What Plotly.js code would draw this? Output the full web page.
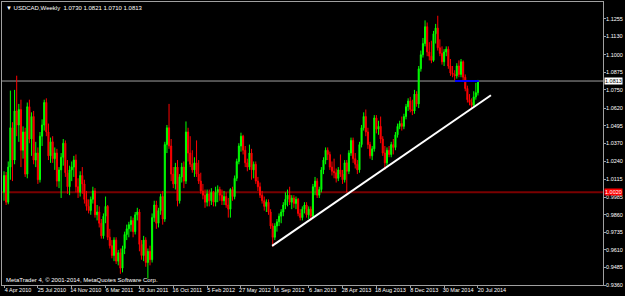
<!DOCTYPE html>
<html>
<head>
<meta charset="utf-8">
<script src="https://cdn.plot.ly/plotly-3.0.1.min.js"></script>
<style>html,body{margin:0;padding:0;background:#000;}#chart{width:625px;height:296px;}</style>
</head>
<body>
<div id="chart"></div>
<script>
// USDCAD weekly bars, first bar = week of 4 Apr 2010
const firstWeek = '2010-04-04';
const opens = [
1.0020,1.0140,0.9950,1.0200,1.0480,1.0250,1.0600,1.0500,1.0610,1.0320,
1.0450,1.0150,1.0630,1.0400,1.0560,1.0250,1.0300,1.0110,1.0420,1.0500,
1.0660,1.0450,1.0280,1.0380,1.0260,1.0300,1.0100,1.0180,1.0270,1.0370,
1.0160,1.0060,1.0180,1.0200,1.0250,1.0060,1.0020,1.0140,1.0080,0.9970,
0.9920,0.9890,0.9970,1.0030,0.9860,0.9880,0.9800,0.9710,0.9850,0.9920,
0.9700,0.9640,0.9570,0.9680,0.9530,0.9590,0.9480,0.9620,0.9720,0.9760,
0.9790,0.9820,0.9740,0.9860,0.9880,0.9650,0.9570,0.9680,0.9520,0.9600,
0.9540,0.9840,0.9930,0.9800,0.9890,0.9990,0.9830,1.0360,1.0480,1.0350,
1.0150,1.0080,1.0200,0.9960,1.0130,1.0200,1.0100,1.0450,1.0300,1.0220,
1.0180,1.0230,1.0150,1.0100,1.0030,1.0000,0.9950,1.0010,0.9960,1.0020,
0.9950,1.0020,1.0040,1.0000,0.9960,0.9990,0.9930,0.9900,1.0040,0.9990,
1.0120,1.0240,1.0350,1.0420,1.0320,1.0230,1.0200,1.0300,1.0180,1.0220,
1.0100,1.0060,1.0000,0.9960,0.9920,0.9950,0.9880,0.9780,0.9700,0.9780,
0.9810,0.9850,0.9880,0.9930,0.9970,1.0000,0.9950,0.9980,0.9940,0.9970,
0.9870,0.9840,0.9900,0.9930,0.9860,0.9900,0.9850,1.0060,1.0100,1.0000,
1.0040,1.0180,1.0250,1.0320,1.0290,1.0200,1.0170,1.0160,1.0120,1.0180,
1.0150,1.0110,1.0230,1.0170,1.0300,1.0390,1.0260,1.0220,1.0180,1.0360,
1.0480,1.0560,1.0450,1.0360,1.0280,1.0330,1.0550,1.0470,1.0490,1.0400,
1.0300,1.0230,1.0320,1.0290,1.0360,1.0340,1.0430,1.0490,1.0510,1.0490,
1.0560,1.0630,1.0670,1.0610,1.0600,1.0720,1.0650,1.0900,1.1000,1.1080,
1.1200,1.1020,1.0990,1.0960,1.1150,1.1190,1.1050,1.1010,1.0950,1.1020,
1.1040,1.0920,1.0870,1.0860,1.0850,1.0920,1.0860,1.0950,1.0840,1.0760,
1.0680,1.0660,1.0640,1.0700,1.0730
];
const highs = [
1.0170,1.0165,1.0240,1.0745,1.0520,1.0750,1.0851,1.0650,1.0680,1.0490,
1.0480,1.0660,1.0680,1.0590,1.0600,1.0380,1.0340,1.0450,1.0540,1.0680,
1.0690,1.0510,1.0410,1.0420,1.0340,1.0330,1.0200,1.0300,1.0400,1.0390,
1.0250,1.0210,1.0240,1.0280,1.0290,1.0120,1.0170,1.0200,1.0110,1.0030,
0.9970,0.9990,1.0060,1.0050,0.9930,0.9920,0.9830,0.9870,0.9990,0.9930,
0.9760,0.9680,0.9700,0.9700,0.9610,0.9620,0.9640,0.9740,0.9790,0.9810,
0.9850,0.9840,0.9880,0.9910,0.9900,0.9680,0.9710,0.9700,0.9620,0.9640,
0.9870,0.9960,0.9960,0.9910,1.0010,1.0030,1.0380,1.0500,1.0650,1.0400,
1.0200,1.0230,1.0250,1.0150,1.0230,1.0240,1.0525,1.0480,1.0420,1.0320,
1.0270,1.0390,1.0250,1.0160,1.0080,1.0040,1.0040,1.0040,1.0050,1.0030,
1.0060,1.0070,1.0060,1.0040,1.0030,1.0020,0.9980,1.0050,1.0060,1.0140,
1.0260,1.0370,1.0445,1.0430,1.0350,1.0260,1.0360,1.0330,1.0240,1.0240,
1.0130,1.0090,1.0030,0.9990,0.9970,0.9970,0.9900,0.9800,0.9800,0.9830,
0.9870,0.9900,0.9950,1.0020,1.0040,1.0060,1.0000,1.0000,0.9990,0.9980,
0.9900,0.9920,0.9950,0.9950,0.9920,0.9920,1.0080,1.0130,1.0120,1.0060,
1.0200,1.0270,1.0340,1.0340,1.0310,1.0240,1.0260,1.0190,1.0200,1.0290,
1.0180,1.0250,1.0250,1.0320,1.0410,1.0410,1.0300,1.0250,1.0380,1.0500,
1.0590,1.0610,1.0480,1.0380,1.0350,1.0570,1.0570,1.0530,1.0560,1.0420,
1.0350,1.0340,1.0350,1.0380,1.0400,1.0450,1.0510,1.0530,1.0560,1.0580,
1.0650,1.0690,1.0700,1.0680,1.0750,1.0740,1.0920,1.1030,1.1120,1.1245,
1.1230,1.1090,1.1100,1.1170,1.1220,1.1278,1.1110,1.1060,1.1040,1.1060,
1.1060,1.0970,1.0920,1.0890,1.0940,1.0960,1.0970,1.0960,1.0860,1.0780,
1.0720,1.0690,1.0740,1.0800,1.0821
];
const lows = [
0.9960,0.9930,0.9935,1.0110,1.0100,1.0220,1.0420,1.0380,1.0200,1.0260,
1.0130,1.0120,1.0370,1.0280,1.0220,1.0200,1.0080,1.0090,1.0350,1.0460,
1.0420,1.0250,1.0230,1.0230,1.0180,1.0060,1.0050,0.9980,1.0210,1.0130,
1.0010,1.0000,1.0100,1.0130,1.0020,0.9980,0.9990,1.0010,0.9940,0.9890,
0.9870,0.9860,0.9940,0.9840,0.9820,0.9770,0.9690,0.9690,0.9800,0.9680,
0.9620,0.9550,0.9530,0.9510,0.9500,0.9440,0.9450,0.9580,0.9680,0.9700,
0.9740,0.9700,0.9720,0.9820,0.9600,0.9540,0.9530,0.9490,0.9406,0.9500,
0.9520,0.9810,0.9760,0.9770,0.9860,0.9790,0.9810,1.0300,1.0330,1.0100,
1.0050,1.0040,0.9920,0.9940,1.0090,1.0050,1.0080,1.0240,1.0200,1.0160,
1.0130,1.0130,1.0080,1.0010,0.9970,0.9910,0.9920,0.9920,0.9930,0.9920,
0.9920,0.9950,0.9960,0.9930,0.9930,0.9910,0.9840,0.9840,0.9960,0.9970,
1.0100,1.0220,1.0310,1.0290,1.0200,1.0170,1.0180,1.0110,1.0120,1.0080,
1.0030,0.9980,0.9940,0.9890,0.9880,0.9860,0.9760,0.9633,0.9680,0.9740,
0.9780,0.9800,0.9850,0.9900,0.9920,0.9930,0.9900,0.9910,0.9900,0.9850,
0.9820,0.9820,0.9870,0.9840,0.9830,0.9820,0.9840,1.0000,0.9980,0.9980,
1.0020,1.0150,1.0220,1.0250,1.0180,1.0140,1.0120,1.0090,1.0100,1.0130,
1.0080,1.0090,1.0020,1.0150,1.0280,1.0230,1.0190,1.0150,1.0160,1.0340,
1.0460,1.0420,1.0330,1.0260,1.0250,1.0310,1.0440,1.0430,1.0370,1.0280,
1.0180,1.0210,1.0270,1.0270,1.0290,1.0320,1.0410,1.0470,1.0460,1.0470,
1.0540,1.0600,1.0590,1.0570,1.0580,1.0630,1.0620,1.0880,1.0980,1.1060,
1.0990,1.0960,1.0940,1.0950,1.1080,1.1030,1.0990,1.0930,1.0920,1.0990,
1.0900,1.0850,1.0840,1.0820,1.0830,1.0840,1.0840,1.0820,1.0740,1.0660,
1.0640,1.0620,1.0630,1.0680,1.0710
];
const closes = [
1.0140,0.9950,1.0200,1.0480,1.0250,1.0600,1.0500,1.0610,1.0320,1.0450,
1.0150,1.0630,1.0400,1.0560,1.0250,1.0300,1.0110,1.0420,1.0500,1.0660,
1.0450,1.0280,1.0380,1.0260,1.0300,1.0100,1.0180,1.0270,1.0370,1.0160,
1.0060,1.0180,1.0200,1.0250,1.0060,1.0020,1.0140,1.0080,0.9970,0.9920,
0.9890,0.9970,1.0030,0.9860,0.9880,0.9800,0.9710,0.9850,0.9920,0.9700,
0.9640,0.9570,0.9680,0.9530,0.9590,0.9480,0.9620,0.9720,0.9760,0.9790,
0.9820,0.9740,0.9860,0.9880,0.9650,0.9570,0.9680,0.9520,0.9600,0.9540,
0.9840,0.9930,0.9800,0.9890,0.9990,0.9830,1.0360,1.0480,1.0350,1.0150,
1.0080,1.0200,0.9960,1.0130,1.0200,1.0100,1.0450,1.0300,1.0220,1.0180,
1.0230,1.0150,1.0100,1.0030,1.0000,0.9950,1.0010,0.9960,1.0020,0.9950,
1.0020,1.0040,1.0000,0.9960,0.9990,0.9930,0.9900,1.0040,0.9990,1.0120,
1.0240,1.0350,1.0420,1.0320,1.0230,1.0200,1.0300,1.0180,1.0220,1.0100,
1.0060,1.0000,0.9960,0.9920,0.9950,0.9880,0.9780,0.9700,0.9780,0.9810,
0.9850,0.9880,0.9930,0.9970,1.0000,0.9950,0.9980,0.9940,0.9970,0.9870,
0.9840,0.9900,0.9930,0.9860,0.9900,0.9850,1.0060,1.0100,1.0000,1.0040,
1.0180,1.0250,1.0320,1.0290,1.0200,1.0170,1.0160,1.0120,1.0180,1.0150,
1.0110,1.0230,1.0170,1.0300,1.0390,1.0260,1.0220,1.0180,1.0360,1.0480,
1.0560,1.0450,1.0360,1.0280,1.0330,1.0550,1.0470,1.0490,1.0400,1.0300,
1.0230,1.0320,1.0290,1.0360,1.0340,1.0430,1.0490,1.0510,1.0490,1.0560,
1.0630,1.0670,1.0610,1.0600,1.0720,1.0650,1.0900,1.1000,1.1080,1.1200,
1.1020,1.0990,1.0960,1.1150,1.1190,1.1050,1.1010,1.0950,1.1020,1.1040,
1.0920,1.0870,1.0860,1.0850,1.0920,1.0860,1.0950,1.0840,1.0760,1.0680,
1.0660,1.0640,1.0700,1.0730,1.0813
];
// time-axis labels
const tickDates = ['2010-04-04','2010-07-25','2010-11-14','2011-03-06','2011-06-26','2011-10-16','2012-02-05','2012-05-27','2012-09-16','2013-01-06','2013-04-28','2013-08-18','2013-12-08','2014-03-30','2014-07-20'];
const tickLabels = ['4 Apr 2010','25 Jul 2010','14 Nov 2010','6 Mar 2011','26 Jun 2011','16 Oct 2011','5 Feb 2012','27 May 2012','16 Sep 2012','6 Jan 2013','28 Apr 2013','18 Aug 2013','8 Dec 2013','30 Mar 2014','20 Jul 2014'];
// price-axis labels
const priceTicks = [1.1255,1.1130,1.1000,1.0875,1.0750,1.0620,1.0495,1.0370,1.0240,1.0115,0.9985,0.9860,0.9735,0.9610,0.9485,0.9360];
// drawn objects
const trendDates = ['2012-09-07','2014-09-01'];
const trendPrices = [0.9639, 1.0712];
const blueDates = ['2014-05-05','2014-07-23'];
const bluePrices = [1.0813, 1.0813];
const redLevel = 1.0020;

const DAY = 864e5;
const t0 = Date.parse(firstWeek + 'T00:00:00Z');
const weekStart = closes.map((_, i) => new Date(t0 + i * 7 * DAY).toISOString().slice(0, 10));
const last = closes.length - 1;
const bid = closes[last];
const fnt = 'Liberation Sans Narrow, Liberation Sans, Arial, sans-serif';

const traces = [
  {type:'candlestick', x: weekStart, open: opens, high: highs, low: lows, close: closes,
   increasing:{line:{color:'#00ff00', width:1}, fillcolor:'#00ff00'},
   decreasing:{line:{color:'#ff0000', width:1}, fillcolor:'#ff0000'},
   whiskerwidth:0, hoverinfo:'skip', showlegend:false},
  {type:'scatter', mode:'lines', x: trendDates, y: trendPrices, line:{color:'#ffffff', width:2}, hoverinfo:'skip', showlegend:false},
  {type:'scatter', mode:'lines', x: blueDates, y: bluePrices, line:{color:'#0000ff', width:2}, hoverinfo:'skip', showlegend:false}
];

const layout = {
  width:625, height:296,
  margin:{l:2, r:22, t:2, b:11, pad:0},
  paper_bgcolor:'#000000', plot_bgcolor:'#000000',
  showlegend:false,
  xaxis:{type:'date',
    range:[new Date(t0 - 0.95*7*DAY).toISOString(), new Date(t0 + 283.1*7*DAY).toISOString()],
    rangeslider:{visible:false}, showgrid:false, zeroline:false,
    showline:true, linecolor:'#a0a0a0', linewidth:1, mirror:true,
    tickmode:'array', tickvals: tickDates, ticktext: tickLabels, tickangle:0,
    ticks:'outside', ticklen:2, tickcolor:'#a0a0a0',
    ticklabelshift:14, ticklabelstandoff:-3,
    tickfont:{family:fnt, size:5.5, color:'#ffffff'}, automargin:false, fixedrange:true},
  yaxis:{range:[0.9360, 1.1376], side:'right', showgrid:false, zeroline:false,
    showline:true, linecolor:'#a0a0a0', linewidth:1, mirror:true,
    tickmode:'array', tickvals: priceTicks, ticktext: priceTicks.map(v => v.toFixed(4)),
    ticks:'outside', ticklen:2, tickcolor:'#a0a0a0', ticklabelstandoff:-1,
    tickfont:{family:fnt, size:5.5, color:'#ffffff'}, automargin:false, fixedrange:true},
  shapes:[
    {type:'line', xref:'paper', x0:0, x1:1, yref:'y', y0:redLevel, y1:redLevel, line:{color:'#7a0000', width:2}, layer:'below'},
    {type:'line', xref:'paper', x0:0, x1:1, yref:'y', y0:bid, y1:bid, line:{color:'#a0a0a0', width:1}, layer:'below'}
  ],
  annotations:[
    {xref:'paper', yref:'paper', x:0.003, y:0.995, xanchor:'left', yanchor:'top', showarrow:false,
     text:'▼ USDCAD,Weekly  ' + [opens[last], highs[last], lows[last], closes[last]].map(v => v.toFixed(4)).join(' '),
     font:{family:fnt, size:6, color:'#ffffff'}},
    {xref:'paper', yref:'paper', x:0.003, y:0.0, xanchor:'left', yanchor:'bottom', showarrow:false,
     text:'MetaTrader 4, © 2001-2014, MetaQuotes Software Corp.', font:{family:fnt, size:6, color:'#ffffff'}},
    {xref:'paper', yref:'y', x:1, y:bid, xanchor:'left', yanchor:'middle', xshift:1, showarrow:false,
     text: bid.toFixed(4), bgcolor:'#ffffff', borderpad:0, font:{family:fnt, size:5.5, color:'#000000'}},
    {xref:'paper', yref:'y', x:1, y:redLevel, xanchor:'left', yanchor:'middle', xshift:1, showarrow:false,
     text: redLevel.toFixed(4), bgcolor:'#ff0000', borderpad:0, font:{family:fnt, size:5.5, color:'#ffffff'}}
  ]
};

Plotly.newPlot('chart', traces, layout, {displayModeBar:false, staticPlot:true});
</script>
</body>
</html>
